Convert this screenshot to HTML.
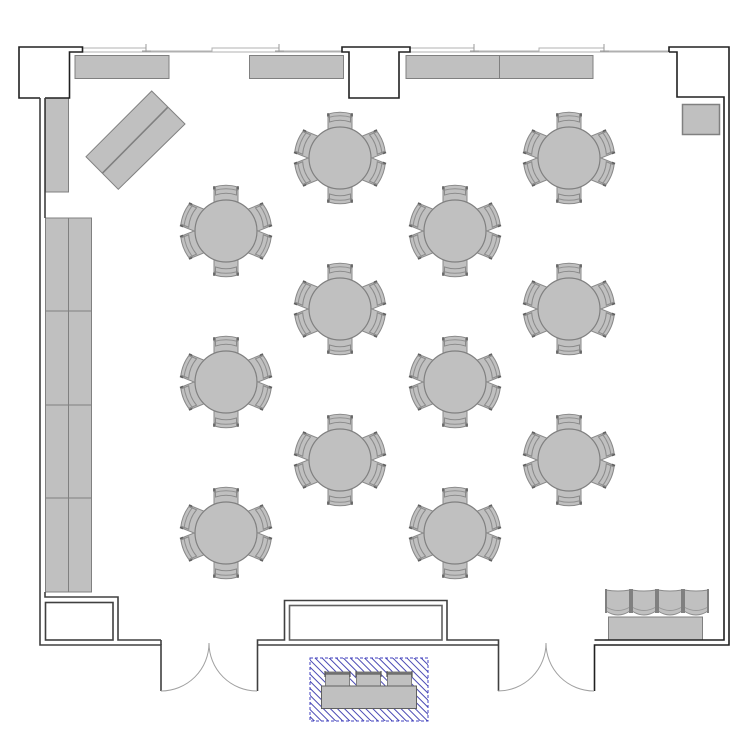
<!DOCTYPE html>
<html><head><meta charset="utf-8"><style>html,body{margin:0;padding:0;background:#fff}svg{display:block;filter:blur(.35px)}</style></head>
<body>
<svg width="750" height="750" viewBox="0 0 750 750" xmlns="http://www.w3.org/2000/svg">
<defs>
<pattern id="h" width="5" height="5" patternUnits="userSpaceOnUse" patternTransform="rotate(45)">
<line x1="0" y1="2.5" x2="5" y2="2.5" stroke="#4a4ab4" stroke-width="1"/>
</pattern>
<g id="c">
<path d="M-12,-44 Q0,-47.500 12,-44 L12,-20 L-12,-20Z" fill="#c0c0c0" stroke="#8a8a8a" stroke-width="1"/>
<path d="M-12,-40.500 Q0,-44 12,-40.500" fill="none" stroke="#909090" stroke-width="1"/>
<path d="M-10.500,-44 L-10.500,-36 Q0,-39.500 10.500,-36 L10.500,-44" fill="none" stroke="#8a8a8a" stroke-width="1"/>
<path d="M-12,-44.800 L-12,-41.500 M12,-44.800 L12,-41.500" stroke="#606060" stroke-width="1.800"/>
</g>
<g id="t">
<use href="#c"/>
<use href="#c" transform="rotate(68)"/>
<use href="#c" transform="rotate(112)"/>
<use href="#c" transform="rotate(180)"/>
<use href="#c" transform="rotate(248)"/>
<use href="#c" transform="rotate(292)"/>
<circle r="31" fill="#c0c0c0" stroke="#808080" stroke-width="1.200"/>
</g>
<g id="s">
<path d="M-12,0 L-12,-14 L12,-14 L12,0Z" fill="#c0c0c0" stroke="#808080"/>
<path d="M-12,-12.500 L12,-12.500" stroke="#707070" stroke-width="2.500"/>
<path d="M-12.500,-15 L-12.500,-9 M12.500,-15 L12.500,-9" stroke="#555" stroke-width="1.200"/>
</g>
<g id="b">
<path d="M1,1 Q13,3 25,1 L25,22 Q13,30 1,22Z" fill="#c0c0c0" stroke="#8a8a8a"/>
<path d="M1,18 Q13,25 25,18" fill="none" stroke="#9a9a9a"/>
<path d="M1,0 L1,24 M25,0 L25,24" stroke="#808080" stroke-width="2"/>
</g>
</defs>

<!-- windows -->
<g fill="none" stroke="#b0b0b0" stroke-width="1">
<path d="M83,48 H146 V51 H212 V48 H279 V51 H342"/>
<path d="M83,52 H342"/>
<path d="M410,48 H474 V51 H539 V48 H604 V51 H669"/>
<path d="M410,52 H669"/>
<path d="M146,44 V52 M142,51 H151 M279,44 V52 M275,51 H284 M474,44 V52 M470,51 H479 M604,44 V52 M600,51 H609" stroke="#999"/>
</g>

<!-- furniture -->
<g fill="#c0c0c0" stroke="#808080" stroke-width="1">
<rect x="75" y="55.500" width="94" height="23"/>
<rect x="249.500" y="55.500" width="94" height="23"/>
<rect x="406" y="55.500" width="187" height="23"/>
<path d="M499.500,55.500 V78.500"/>
<rect x="45.500" y="98" width="23" height="94"/>
<path d="M151.700,91 L185,124 L118.300,189.300 L86,156.700Z"/>
<path d="M167.700,107.300 L102.300,173.300" stroke-width="1.600"/>
<rect x="45.500" y="218" width="46" height="374"/>
<path d="M68.500,218 V592 M45.500,311 H91.500 M45.500,405 H91.500 M45.500,498 H91.500"/>
<rect x="682.500" y="104.500" width="37" height="30" stroke-width="1.500"/>
<rect x="608.500" y="617" width="94" height="23"/>
</g>

<!-- tables -->
<use href="#t" x="340" y="158"/>
<use href="#t" x="569" y="158"/>
<use href="#t" x="226" y="231"/>
<use href="#t" x="455" y="231"/>
<use href="#t" x="340" y="309"/>
<use href="#t" x="569" y="309"/>
<use href="#t" x="226" y="382"/>
<use href="#t" x="455" y="382"/>
<use href="#t" x="340" y="460"/>
<use href="#t" x="569" y="460"/>
<use href="#t" x="226" y="533"/>
<use href="#t" x="455" y="533"/>

<!-- back row chairs -->
<use href="#b" x="605" y="589"/>
<use href="#b" x="631" y="589"/>
<use href="#b" x="657" y="589"/>
<use href="#b" x="683" y="589"/>

<!-- walls -->
<g fill="none" stroke="#202020" stroke-width="1.600">
<path d="M40,98 H19 V47 H82.500 V52 H69.500 V98 H45"/>
<path d="M342,47 H410 V52 H399 V98 H349 V52 H342Z"/>
<path d="M669,52 V47 H729 V645 H594.500 V691"/>
<path d="M669,52 H677 V97 H724 V640 H594.500"/>
</g>
<g fill="none" stroke="#404040" stroke-width="1.600">
<path d="M40,98 V645 H161 V691"/>
<path d="M45,98 V218 M45,592 V597 H118 V640 H161"/>
<rect x="45.500" y="602.500" width="67.500" height="37.500"/>
<path d="M161,645 V640 M257.500,691 V640 H284.500 V600.500 H447 V640 H498.500 V691"/>
<path d="M257.500,645 H498.500"/>
<rect x="289.500" y="605.500" width="152.500" height="34.500" stroke="#606060"/>
</g>

<!-- door swings -->
<path d="M161,691 A48,48 0 0 0 209,643 A48,48 0 0 0 257,691" fill="none" stroke="#a0a0a0" stroke-width="1"/>
<path d="M498,691 A48,48 0 0 0 546,643 A48,48 0 0 0 594,691" fill="none" stroke="#a0a0a0" stroke-width="1"/>

<!-- hatched group -->
<rect x="310" y="658" width="118" height="63" fill="url(#h)" stroke="#4040c0" stroke-width="1" stroke-dasharray="3 2"/>
<use href="#s" x="337.500" y="686"/>
<use href="#s" x="368.500" y="686"/>
<use href="#s" x="399.500" y="686"/>
<rect x="321.500" y="686" width="95" height="22.500" fill="#c0c0c0" stroke="#606060" stroke-width="1"/>
</svg>
</body></html>
